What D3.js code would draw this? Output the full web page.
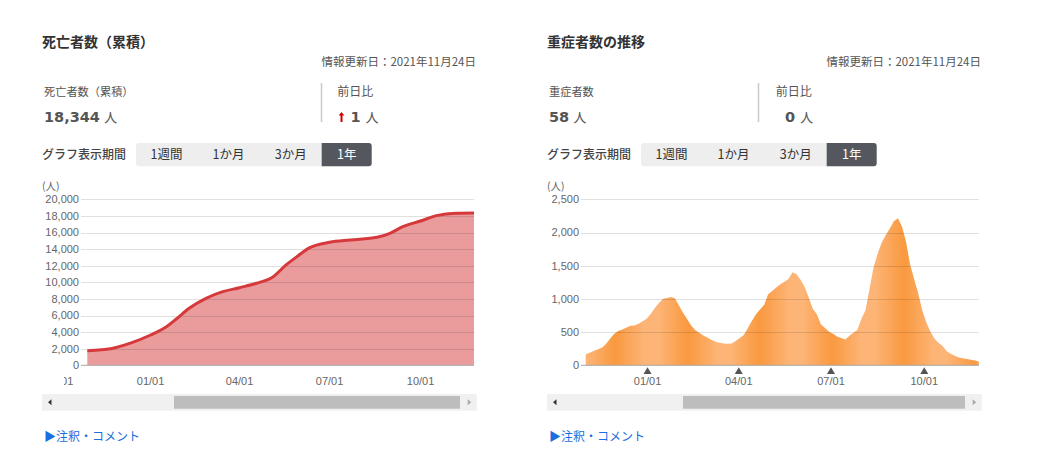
<!DOCTYPE html>
<html><head><meta charset="utf-8">
<script src="https://cdn.jsdelivr.net/npm/d3@7"></script>
<style>
body{margin:0;background:#fff;}
svg{display:block;}
text{font-family:"Noto Sans CJK JP","Noto Sans",sans-serif;}
.tick{font-family:"Liberation Sans",Arial,sans-serif;}
</style></head><body>
<svg id="c" width="1049" height="461"></svg>
<script>
// ---------- data ----------
const updatedText = "情報更新日：2021年11月24日";
const periodButtons = ["1週間","1か月","3か月","1年"];
const monthTicks = ["2020-10-01","2021-01-01","2021-04-01","2021-07-01","2021-10-01"];

const deathTitle = "死亡者数（累積）";
const deathTotal = "18,344";
const deathDiff = "1";
const deathDates = ["2020-10-29","2020-11-12","2020-11-24","2020-12-11","2021-01-01","2021-01-17","2021-01-27","2021-02-09","2021-02-26","2021-03-15","2021-04-01","2021-04-18","2021-05-05","2021-05-18","2021-05-29","2021-06-11","2021-07-01","2021-07-22","2021-08-18","2021-08-31","2021-09-13","2021-10-01","2021-10-17","2021-11-06","2021-11-24"];
const deathValues = [1760,1860,2050,2650,3650,4650,5580,6870,8070,8870,9350,9880,10680,12090,13090,14170,14820,15100,15420,15900,16700,17390,18030,18320,18344];
const deathYTicks = [0,2000,4000,6000,8000,10000,12000,14000,16000,18000,20000];

const severeTitle = "重症者数の推移";
const severeLabel = "重症者数";
const severeTotal = "58";
const severeDiff = "0";
const severeStart = "2020-11-01";
const severeStepDays = 4;
const severeValues = [166,190,215,240,265,320,400,470,515,540,565,597,600,625,660,700,
  770,860,935,1000,1012,1030,1010,900,790,697,600,530,490,450,420,385,356,340,330,325,330,366,410,456,
  560,670,770,840,910,1070,1120,1170,1220,1260,1300,1400,1370,1290,1180,1020,850,770,620,560,
  506,475,435,410,390,440,490,531,700,830,1150,1480,1680,1850,1960,2060,2170,2215,2090,1860,
  1520,1300,1090,830,650,510,405,340,290,215,175,145,118,105,95,85,72,58];
const severeYTicks = [0,500,1000,1500,2000,2500];

// ---------- drawing ----------
const svg = d3.select("#c");
const parse = d3.timeParse("%Y-%m-%d");
const fmt = d3.timeFormat("%m/%d");
const defs = svg.append("defs");

function header(c){
  svg.append("text").attr("x",c.bx).attr("y",46.5)
    .attr("font-size",14).attr("font-weight","bold").attr("fill","#333").text(c.title);
  svg.append("text").attr("x",c.right).attr("y",66).attr("text-anchor","end")
    .attr("font-size",11.5).attr("fill","#555").text(updatedText);
  svg.append("text").attr("x",c.bx+2).attr("y",96)
    .attr("font-size",11.2).attr("fill","#555").text(c.label);
  const v = svg.append("text").attr("x",c.bx+2).attr("y",122).attr("fill","#555");
  v.append("tspan").attr("font-family","DejaVu Sans").attr("font-weight","bold").attr("font-size",14.5).text(c.total);
  v.append("tspan").attr("font-size",13).attr("dx",4).text("人");
  svg.append("rect").attr("x",c.sepX).attr("y",83).attr("width",1.6).attr("height",39).attr("fill","#ccc");
  svg.append("text").attr("x",c.diffX).attr("y",96).attr("font-size",12).attr("fill","#555").text("前日比");
  if(c.arrow){
    svg.append("path").attr("d",`M${c.diffX+4.2},112 L${c.diffX+7},115.5 L${c.diffX+5.2},115.5 L${c.diffX+5.2},122 L${c.diffX+3.2},122 L${c.diffX+3.2},115.5 L${c.diffX+1.4},115.5 Z`)
      .attr("fill","#d40000");
  }
  const d = svg.append("text").attr("x",c.diffNumX).attr("y",122).attr("fill","#555");
  d.append("tspan").attr("font-family","DejaVu Sans").attr("font-weight","bold").attr("font-size",14.5).text(c.diff);
  d.append("tspan").attr("font-size",13).attr("dx",5).text("人");
  // period buttons
  svg.append("text").attr("x",c.bx).attr("y",159).attr("font-size",12).attr("font-weight",500)
    .attr("fill","#444").text("グラフ表示期間");
  const gx = c.bx+94, gy=143, gh=23.3;
  const bounds=[0,61,124,185.7,235.7];
  svg.append("rect").attr("x",gx).attr("y",gy).attr("width",235.7).attr("height",gh).attr("rx",3).attr("fill","#eee");
  periodButtons.forEach((b,i)=>{
    const x0=gx+bounds[i], x1=gx+bounds[i+1];
    const active = i===periodButtons.length-1;
    if(active){
      svg.append("path").attr("d",`M${x0},${gy} H${x1-3} Q${x1},${gy} ${x1},${gy+3} V${gy+gh-3} Q${x1},${gy+gh} ${x1-3},${gy+gh} H${x0} Z`).attr("fill","#54585e");
    }
    svg.append("text").attr("x",(x0+x1)/2).attr("y",159).attr("text-anchor","middle")
      .attr("font-size",12.5).attr("fill",active?"#fff":"#333").text(b);
  });
}

function chartFrame(c){
  const y = d3.scaleLinear().domain([0,c.yTicks[c.yTicks.length-1]]).range([365.3,199.3]);
  svg.append("text").attr("x",c.bx).attr("y",190).attr("font-size",10.5).attr("fill","#666").text("(人)");
  return y;
}

function footer(c){
  svg.append("rect").attr("x",c.bx).attr("y",394).attr("width",c.scrollW).attr("height",16.7).attr("fill","#f0f0f0");
  svg.append("rect").attr("x",c.thumb0).attr("y",396).attr("width",c.thumb1-c.thumb0).attr("height",12.7).attr("fill","#bdbdbd");
  svg.append("path").attr("d",`M${c.bx+6},402.3 L${c.bx+9.5},399.3 L${c.bx+9.5},405.3 Z`).attr("fill","#333");
  const rx=c.bx+c.scrollW-9;
  svg.append("path").attr("d",`M${rx+3.5},402.3 L${rx},399.3 L${rx},405.3 Z`).attr("fill","#aaa");
  svg.append("text").attr("x",c.bx+2).attr("y",441).attr("font-size",12).attr("fill","#1a6fe0").text("▶注釈・コメント");
}

function yAxis(c,y){
  c.yTicks.forEach(t=>{
    svg.append("text").attr("class","tick").attr("x",c.labelX).attr("y",y(t)).attr("dy","0.36em")
      .attr("text-anchor","end").attr("font-size",11).attr("fill","#666").text(d3.format(",")(t));
  });
}
function grid(c,y){
  c.yTicks.forEach(t=>{
    if(t===0) return;
    svg.append("line").attr("x1",c.gridX0).attr("x2",c.x1).attr("y1",Math.round(y(t))+0.5).attr("y2",Math.round(y(t))+0.5)
      .attr("stroke","rgba(0,0,0,0.12)").attr("stroke-width",1);
  });
  svg.append("line").attr("x1",c.gridX0).attr("x2",c.x1).attr("y1",365.3).attr("y2",365.3)
    .attr("stroke","#a8a8a8").attr("stroke-width",1);
}
function xAxis(c,x,triangles){
  const clipId="clip"+c.bx;
  defs.append("clipPath").attr("id",clipId).append("rect").attr("x",c.clipLeft).attr("y",360).attr("width",c.x1+10-c.clipLeft).attr("height",40);
  const g = svg.append("g").attr("clip-path",`url(#${clipId})`);
  monthTicks.map(parse).forEach(d=>{
    const px = x(d);
    g.append("text").attr("class","tick").attr("x",px).attr("y",385).attr("text-anchor","middle")
      .attr("font-size",11).attr("fill","#666").text(fmt(d));
    if(triangles && px>=c.x0){
      g.append("path").attr("d",`M${px},367.3 L${px+4},374 L${px-4},374 Z`).attr("fill","#555");
    }
  });
}

// ---- left panel: cumulative deaths ----
const L = {bx:42,right:476,title:deathTitle,label:deathTitle,total:deathTotal,diff:deathDiff,arrow:true,
  sepX:320.7,diffX:337.3,diffNumX:350.5,yTicks:deathYTicks,x0:87.3,x1:474,gridX0:81,labelX:79,clipLeft:64,
  scrollW:434.7,thumb0:174,thumb1:460};
header(L);
const yL = chartFrame(L);
const dData = deathDates.map((d,i)=>({d:parse(d),v:deathValues[i]}));
const xL = d3.scaleTime().domain(d3.extent(dData,e=>e.d)).range([L.x0,L.x1]);
svg.append("path").datum(dData).attr("fill","#d6393b").attr("fill-opacity",0.5)
  .attr("d",d3.area().x(e=>xL(e.d)).y0(yL(0)).y1(e=>yL(e.v)).curve(d3.curveMonotoneX));
grid(L,yL);
svg.append("path").datum(dData).attr("fill","none").attr("stroke","#d6393b").attr("stroke-width",3)
  .attr("d",d3.line().x(e=>xL(e.d)).y(e=>yL(e.v)).curve(d3.curveMonotoneX));
yAxis(L,yL);
xAxis(L,xL,false);
footer(L);

// ---- right panel: severe cases ----
const R = {bx:547,right:981,title:severeTitle,label:severeLabel,total:severeTotal,diff:severeDiff,arrow:false,
  sepX:757.7,diffX:775.7,diffNumX:785,yTicks:severeYTicks,x0:585.7,x1:979,gridX0:581,labelX:579,clipLeft:570,
  scrollW:434.7,thumb0:683,thumb1:965};
header(R);
const yR = chartFrame(R);
const s0 = parse(severeStart);
const sData = severeValues.map((v,i)=>({d:d3.timeDay.offset(s0,i*severeStepDays),v:v}));
const xR = d3.scaleTime().domain(d3.extent(sData,e=>e.d)).range([R.x0,R.x1]);
// banded orange gradient (bar moiré look)
const grad = defs.append("linearGradient").attr("id","og").attr("gradientUnits","userSpaceOnUse")
  .attr("x1",R.x0).attr("x2",R.x1).attr("y1",0).attr("y2",0);
const bandCenters=[615,688,760,832,904,976];
const stops=[];
stops.push([R.x0,"#fdb577"]);
bandCenters.forEach(b=>{stops.push([b-30,"#fdb577"]);stops.push([b,"#f9993f"]);stops.push([b+30,"#fdb577"]);});
stops.push([R.x1,"#fdb070"]);
stops.forEach(s=>grad.append("stop").attr("offset",Math.max(0,Math.min(1,(s[0]-R.x0)/(R.x1-R.x0)))).attr("stop-color",s[1]));
svg.append("path").datum(sData).attr("fill","url(#og)")
  .attr("d",d3.area().x(e=>xR(e.d)).y0(yR(0)).y1(e=>yR(e.v)).curve(d3.curveLinear));
grid(R,yR);
yAxis(R,yR);
xAxis(R,xR,true);
footer(R);
</script>
</body></html>
